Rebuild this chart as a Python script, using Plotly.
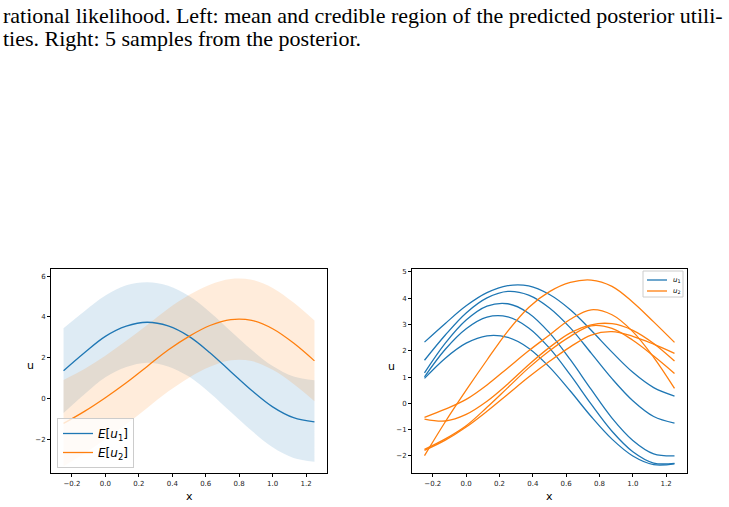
import plotly.graph_objects as go

# ---------------- data ----------------
xs = [-0.25, -0.125, 0.0, 0.125, 0.25, 0.375, 0.5, 0.625, 0.75, 0.875, 1.0, 1.125, 1.25]

# left panel: posterior means and credible regions
mean_u1 = [1.37, 2.25, 3.05, 3.55, 3.74, 3.56, 3.05, 2.25, 1.32, 0.40, -0.40, -0.93, -1.13]
hi_u1 = [3.45, 4.28, 5.05, 5.55, 5.70, 5.53, 5.02, 4.23, 3.30, 2.38, 1.60, 1.08, 0.90]
lo_u1 = [-0.70, 0.22, 1.05, 1.55, 1.76, 1.58, 1.08, 0.28, -0.65, -1.57, -2.38, -2.90, -3.09]

mean_u2 = [-1.21, -0.62, 0.05, 0.78, 1.58, 2.38, 3.05, 3.58, 3.87, 3.83, 3.42, 2.72, 1.85]
hi_u2 = [0.92, 1.45, 2.10, 2.83, 3.60, 4.40, 5.07, 5.58, 5.86, 5.82, 5.42, 4.70, 3.82]
lo_u2 = [-3.30, -2.68, -1.98, -1.25, -0.45, 0.35, 1.03, 1.56, 1.88, 1.84, 1.41, 0.72, -0.12]

# right panel: 5 posterior samples of each utility
samples_u1 = [
    [2.33, 3.04, 3.71, 4.21, 4.48, 4.47, 4.14, 3.56, 2.78, 1.95, 1.18, 0.60, 0.28],
    [1.64, 2.60, 3.44, 4.01, 4.26, 4.12, 3.63, 2.87, 1.91, 0.94, 0.10, -0.50, -0.75],
    [1.16, 2.29, 3.17, 3.70, 3.79, 3.43, 2.68, 1.66, 0.53, -0.56, -1.41, -1.92, -2.00],
    [1.01, 2.06, 2.84, 3.28, 3.29, 2.87, 2.10, 1.08, -0.03, -1.06, -1.84, -2.27, -2.28],
    [0.95, 1.72, 2.29, 2.57, 2.51, 2.10, 1.38, 0.47, -0.50, -1.36, -2.00, -2.33, -2.30],
]
samples_u2 = [
    [-1.99, -0.70, 0.50, 1.65, 2.75, 3.65, 4.25, 4.60, 4.69, 4.45, 3.85, 3.10, 2.32],
    [-0.53, -0.22, 0.15, 0.70, 1.35, 2.00, 2.60, 3.20, 3.56, 3.37, 2.73, 1.75, 0.57],
    [-0.60, -0.67, -0.42, 0.08, 0.74, 1.47, 2.13, 2.68, 2.99, 3.03, 2.78, 2.28, 1.61],
    [-1.75, -1.35, -0.85, -0.15, 0.60, 1.35, 2.00, 2.55, 2.95, 2.85, 2.40, 1.80, 1.14],
    [-1.79, -1.40, -0.90, -0.30, 0.35, 1.00, 1.60, 2.15, 2.60, 2.73, 2.55, 2.25, 1.90],
]

caption_lines = [
    "rational likelihood. Left: mean and credible region of the predicted posterior utili-",
    "ties. Right: 5 samples from the posterior.",
]
left_legend_labels = ["<i>E</i>[<i>u</i><sub>1</sub>]", "<i>E</i>[<i>u</i><sub>2</sub>]"]
right_legend_labels = ["<i>u</i><sub>1</sub>", "<i>u</i><sub>2</sub>"]

BLUE = "#1f77b4"
ORANGE = "#ff7f0e"
TICKFONT = dict(family="DejaVu Sans", size=7, color="#222")

fig = go.Figure()

# ---- left panel bands ----
for lo, hi, fillc in [(lo_u1, hi_u1, "rgba(31,119,180,0.15)"), (lo_u2, hi_u2, "rgba(255,127,14,0.15)")]:
    fig.add_trace(go.Scatter(x=xs, y=lo, mode="lines", line=dict(width=0, shape="spline"),
                             showlegend=False, hoverinfo="skip", xaxis="x", yaxis="y"))
    fig.add_trace(go.Scatter(x=xs, y=hi, mode="lines", line=dict(width=0, shape="spline"),
                             fill="tonexty", fillcolor=fillc, showlegend=False,
                             hoverinfo="skip", xaxis="x", yaxis="y"))

fig.add_trace(go.Scatter(x=xs, y=mean_u1, mode="lines", line=dict(color=BLUE, width=1.3, shape="spline"),
                         name=left_legend_labels[0], legend="legend", xaxis="x", yaxis="y"))
fig.add_trace(go.Scatter(x=xs, y=mean_u2, mode="lines", line=dict(color=ORANGE, width=1.3, shape="spline"),
                         name=left_legend_labels[1], legend="legend", xaxis="x", yaxis="y"))

# ---- right panel samples ----
for i, s in enumerate(samples_u1):
    fig.add_trace(go.Scatter(x=xs, y=s, mode="lines", line=dict(color=BLUE, width=1.3, shape="spline"),
                             name="u1", showlegend=False, xaxis="x2", yaxis="y2"))
for i, s in enumerate(samples_u2):
    fig.add_trace(go.Scatter(x=xs, y=s, mode="lines", line=dict(color=ORANGE, width=1.3, shape="spline"),
                             name="u2", showlegend=False, xaxis="x2", yaxis="y2"))

W, H = 729, 507
def fx(px):
    return px / W
def fy(py):
    return (H - py) / H

axis_common = dict(showline=True, linecolor="black", linewidth=1, mirror=True, ticks="outside",
                   ticklen=3, tickwidth=1, tickcolor="black", showgrid=False, zeroline=False,
                   tickfont=TICKFONT)

fig.update_layout(
    width=W, height=H, margin=dict(l=0, r=0, t=0, b=0),
    paper_bgcolor="white", plot_bgcolor="white",
    xaxis=dict(domain=[fx(51), fx(327)], range=[-0.325, 1.325], tickvals=[-0.2, 0, 0.2, 0.4, 0.6, 0.8, 1.0, 1.2],
               tickformat=".1f", anchor="y", **axis_common),
    yaxis=dict(domain=[fy(473.3), fy(269.3)], range=[-3.65, 6.33], tickvals=[-2, 0, 2, 4, 6],
               anchor="x", **axis_common),
    xaxis2=dict(domain=[fx(412), fx(687)], range=[-0.325, 1.325], tickvals=[-0.2, 0, 0.2, 0.4, 0.6, 0.8, 1.0, 1.2],
                tickformat=".1f", anchor="y2", **axis_common),
    yaxis2=dict(domain=[fy(473.3), fy(269.3)], range=[-2.66, 5.1], tickvals=[-2, -1, 0, 1, 2, 3, 4, 5],
                anchor="x2", **axis_common),
    legend=dict(x=fx(57), y=fy(468), xanchor="left", yanchor="bottom", traceorder="normal",
                bgcolor="rgba(255,255,255,0.8)", bordercolor="#cccccc", borderwidth=1,
                font=dict(family="DejaVu Sans", size=12, color="black"), tracegroupgap=0),
    showlegend=True,
)

annotations = []
shapes = []
# axis labels
for (tx, px, py) in [("x", 189, 496), ("u", 30, 365), ("x", 549, 496), ("u", 391, 366)]:
    annotations.append(dict(text=tx, x=fx(px), y=fy(py), xref="paper", yref="paper", showarrow=False,
                            xanchor="center", yanchor="middle",
                            font=dict(family="DejaVu Sans", size=11, color="black")))
# caption
for i, line in enumerate(caption_lines):
    annotations.append(dict(text=line, x=fx(1), y=fy(15 + 23.5 * i), xref="paper", yref="paper",
                            xanchor="left", yanchor="middle", showarrow=False,
                            font=dict(family="Liberation Serif", size=22, color="black")))

# right legend (compact, like the reference)
shapes.append(dict(type="rect", xref="paper", yref="paper", x0=fx(643), x1=fx(683), y0=fy(297), y1=fy(271),
                   line=dict(color="#cccccc", width=1), fillcolor="rgba(255,255,255,0.8)", layer="above"))
for j, (lab, col) in enumerate(zip(right_legend_labels, [BLUE, ORANGE])):
    yy = 280 + 11 * j
    shapes.append(dict(type="line", xref="paper", yref="paper", x0=fx(647), x1=fx(667), y0=fy(yy), y1=fy(yy),
                       line=dict(color=col, width=1.3), layer="above"))
    annotations.append(dict(text=lab, x=fx(671), y=fy(yy), xref="paper", yref="paper", showarrow=False,
                            xanchor="left", yanchor="middle",
                            font=dict(family="DejaVu Sans", size=7, color="black")))

fig.update_layout(annotations=annotations, shapes=shapes)

fig.write_html("out.html")
